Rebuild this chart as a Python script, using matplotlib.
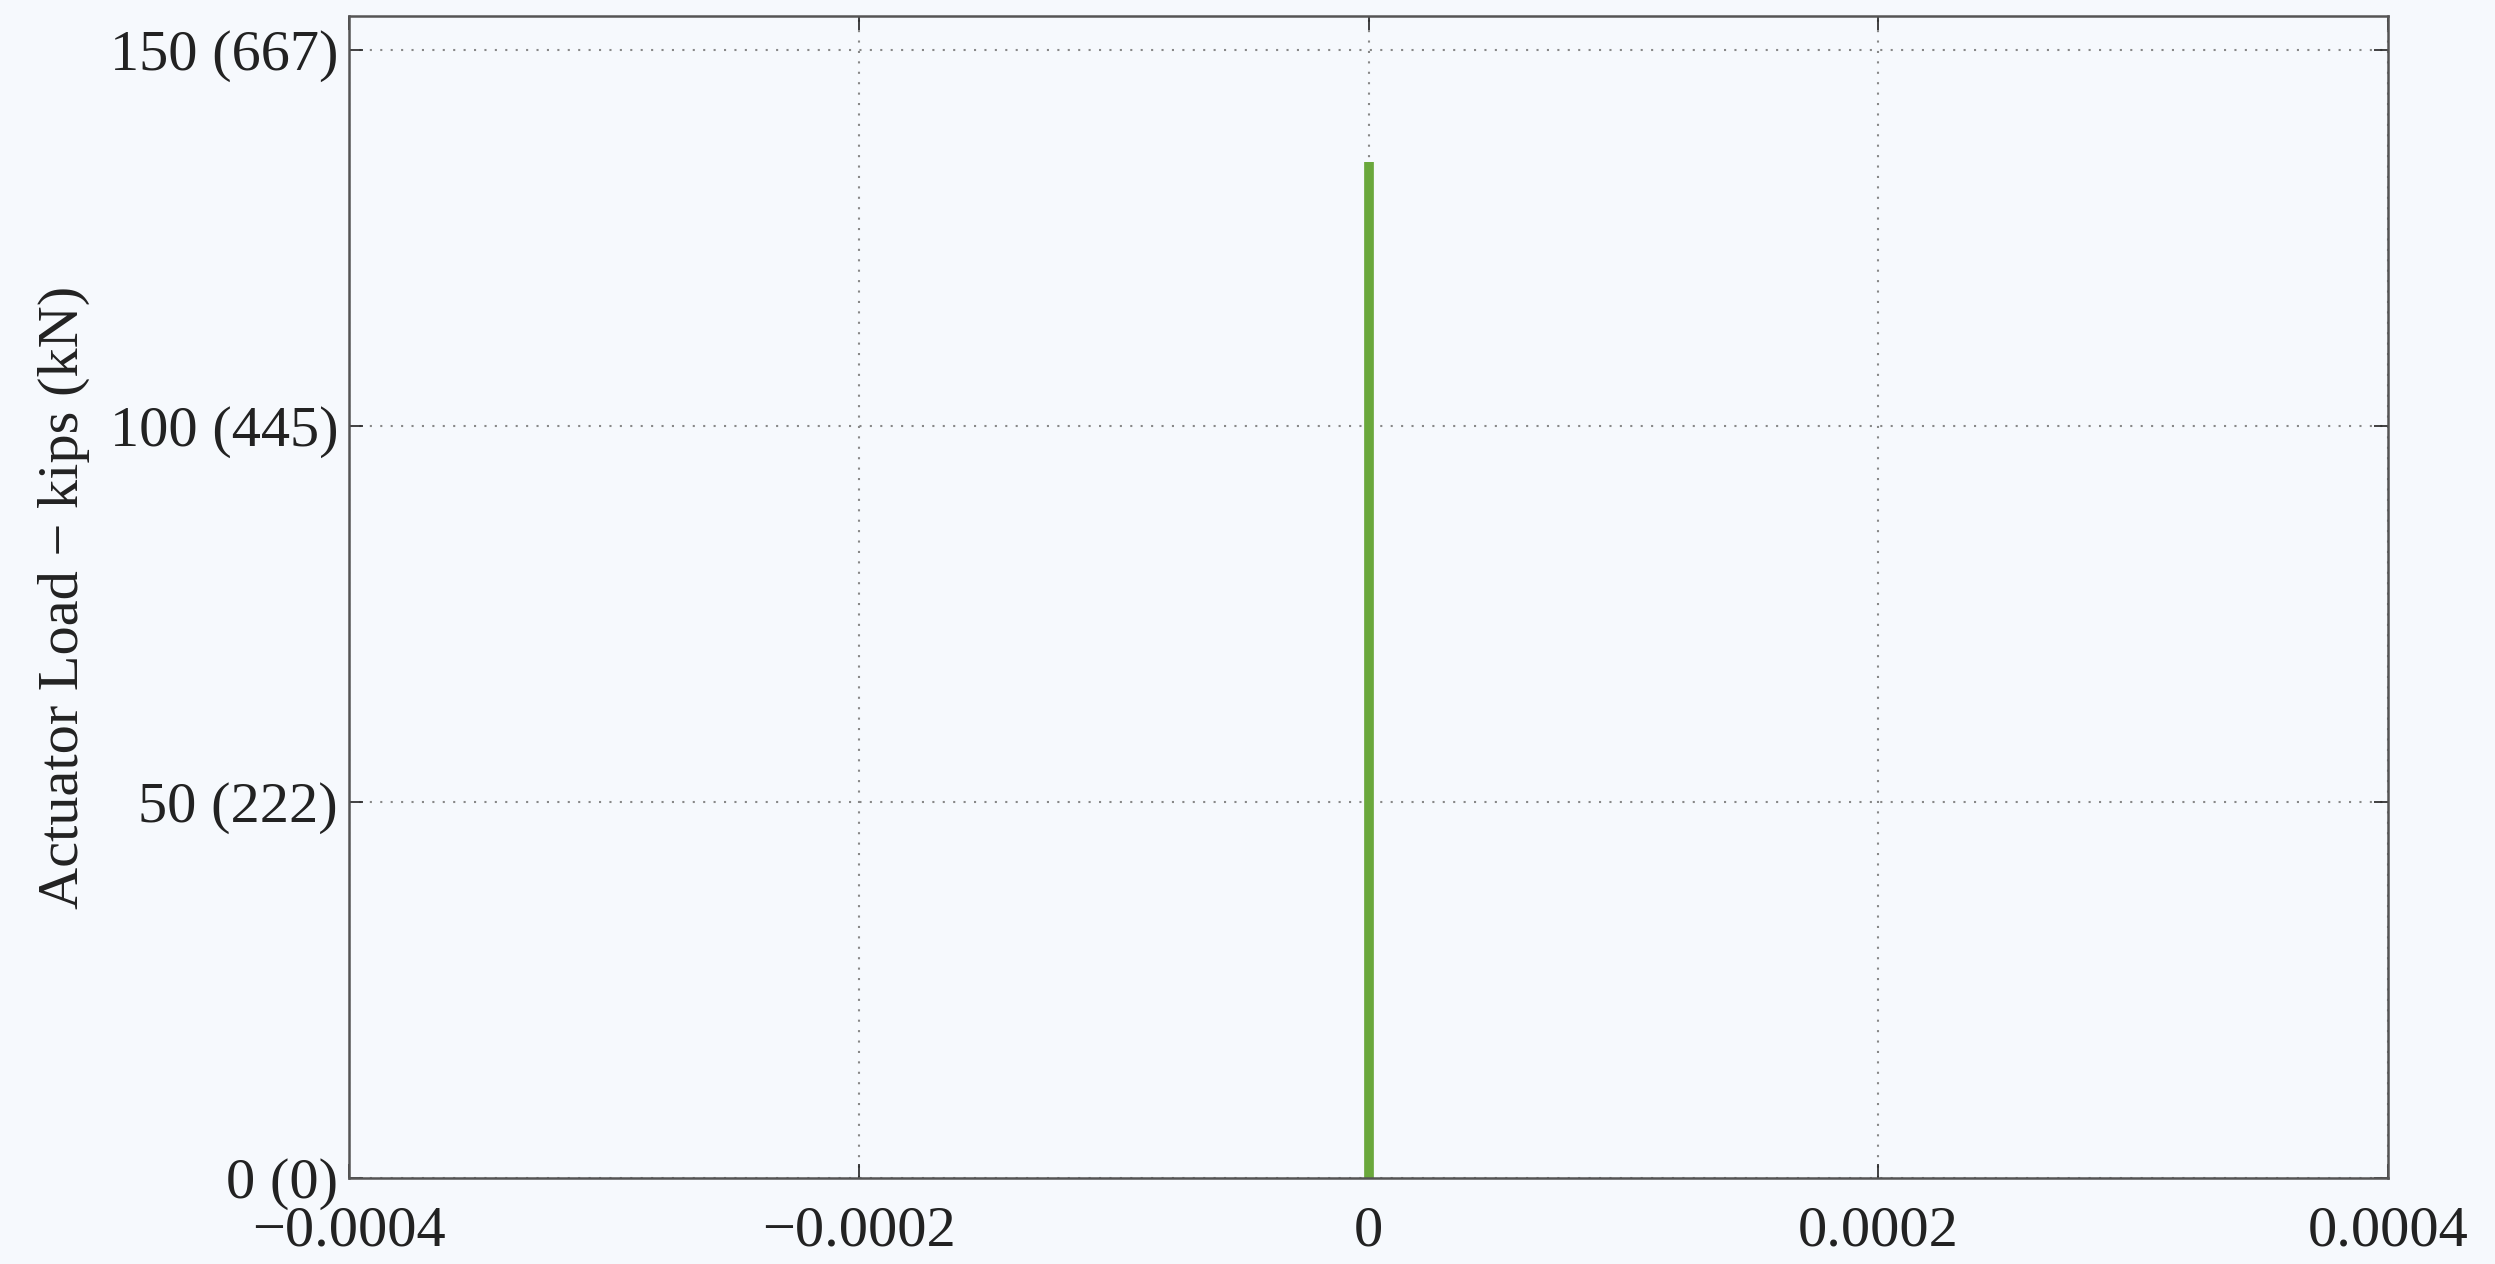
import numpy as np
import matplotlib
matplotlib.use('Agg')
import matplotlib.pyplot as plt

# data
strain = [0.0, 0.0]
load_kips = [0.0, 135.0]

xticks = [-0.0004, -0.0002, 0, 0.0002, 0.0004]
xtick_labels = ['\u22120.0004', '\u22120.0002', '0', '0.0002', '0.0004']
yticks = [0, 50, 100, 150]
ytick_labels = ['0 (0)', '50 (222)', '100 (445)', '150 (667)']

BG = '#f6f9fd'

plt.rcParams['font.family'] = ['Liberation Serif', 'DejaVu Serif']

fig = plt.figure(figsize=(24.95, 12.64), dpi=100, facecolor=BG)
ax = fig.add_axes([0.140, 0.068, 0.817, 0.919])
ax.set_facecolor(BG)

ax.plot(strain, load_kips, color='#6aa83c', linewidth=7, solid_capstyle='butt')

ax.set_xlim(-0.0004, 0.0004)
ax.set_ylim(0, 154.4)
ax.set_xticks(xticks)
ax.set_xticklabels(xtick_labels)
ax.set_yticks(yticks)
ax.set_yticklabels(ytick_labels)

ax.grid(True, linestyle=(0, (1, 4)), color='#888888', linewidth=1.5)
ax.tick_params(direction='in', length=10, width=1.2, labelsize=42, colors='#222222',
               top=True, right=True)
ax.tick_params(axis='x', pad=20)
ax.tick_params(axis='y', pad=8)
for s in ax.spines.values():
    s.set_color('#555555')
    s.set_linewidth(1.8)

ax.set_ylabel('Actuator Load \u2212 kips (kN)', fontsize=42, color='#222222', labelpad=14)

fig.savefig('out.png', dpi=100, facecolor=BG)
